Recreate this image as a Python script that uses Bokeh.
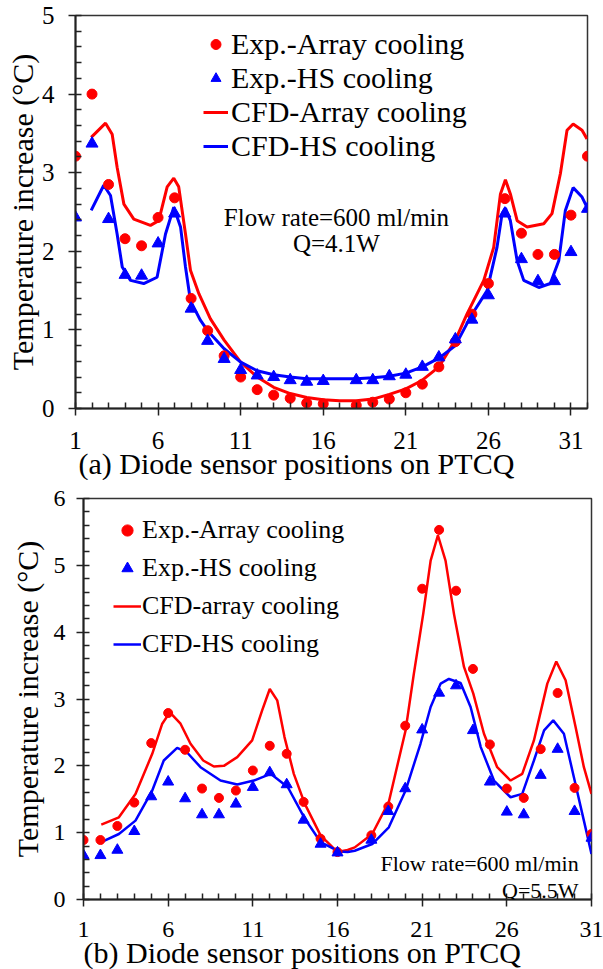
from bokeh.plotting import figure
from bokeh.models import Range1d, FixedTicker, Legend, LegendItem, Label, Title
from bokeh.embed import file_html
from bokeh.resources import INLINE

FONT = "Liberation Serif"
RED = "#FF0000"
BLUE = "#0000FF"

# ---------------- Panel (a): Q = 4.1 W ----------------
a_sensor = [1, 2, 3, 4, 5, 6, 7, 8, 9, 10, 11, 12, 13, 14, 15, 16,
            18, 19, 20, 21, 22, 23, 24, 25, 26, 27, 28, 29, 30, 31, 32]
a_exp_array = [3.21, 4.00, 2.85, 2.16, 2.07, 2.43, 2.68, 1.40, 0.99, 0.67, 0.40, 0.24, 0.17, 0.13, 0.07, 0.06,
               0.04, 0.08, 0.12, 0.20, 0.31, 0.53, 0.85, 1.20, 1.59, 2.67, 2.23, 1.96, 1.96, 2.46, 3.21]
a_exp_hs = [2.43, 3.37, 2.41, 1.70, 1.69, 2.10, 2.48, 1.27, 0.86, 0.63, 0.49, 0.42, 0.40, 0.36, 0.34, 0.35,
            0.36, 0.36, 0.41, 0.43, 0.53, 0.65, 0.88, 1.13, 1.44, 2.48, 1.90, 1.62, 1.62, 1.99, 2.54]

a_cfd_array_x = [1.95, 2.82, 3.22, 3.52, 3.93, 4.53, 5.54, 6.04, 6.55, 6.95, 7.25, 7.66, 7.96, 8.47, 9.17,
                 10, 11, 12, 13, 14, 15, 16, 17, 18, 19, 20, 21, 22, 23, 24, 24.7, 25.72, 26.32, 26.73,
                 27.03, 27.33, 27.74, 28.34, 29.35, 29.85, 30.36, 30.76, 31.13, 31.67, 31.97]
a_cfd_array = [3.45, 3.63, 3.49, 3.07, 2.60, 2.41, 2.33, 2.39, 2.82, 2.93, 2.82, 2.22, 1.76, 1.46, 1.14,
               0.87, 0.59, 0.40, 0.27, 0.19, 0.14, 0.11, 0.10, 0.10, 0.12, 0.18, 0.25, 0.36, 0.53, 0.87, 1.20,
               1.63, 2.05, 2.73, 2.91, 2.73, 2.39, 2.31, 2.35, 2.48, 2.99, 3.54, 3.62, 3.54, 3.43]

a_cfd_hs_x = [1.95, 2.71, 3.12, 3.52, 3.83, 4.33, 5.13, 5.94, 6.45, 6.95, 7.36, 7.66, 7.96, 8.57, 9,
              10, 11, 12, 13, 14, 15, 16, 17, 18, 19, 20, 21, 22, 23, 24, 24.9, 25.92, 26.52, 26.83,
              27.03, 27.33, 27.74, 28.14, 29.05, 29.75, 30.26, 30.66, 31.13, 31.67, 31.97]
a_cfd_hs = [2.52, 2.84, 2.71, 2.22, 1.80, 1.63, 1.59, 1.67, 2.22, 2.56, 2.31, 1.80, 1.37, 1.12, 0.99,
            0.76, 0.59, 0.48, 0.43, 0.40, 0.38, 0.38, 0.38, 0.38, 0.39, 0.41, 0.45, 0.53, 0.64, 0.80, 1.16,
            1.50, 2.05, 2.48, 2.55, 2.39, 1.88, 1.63, 1.54, 1.59, 1.88, 2.52, 2.81, 2.69, 2.56]

a_xticks = [1, 6, 11, 16, 21, 26, 31]
a_yticks = [0, 1, 2, 3, 4, 5]

# ---------------- Panel (b): Q = 5.5 W ----------------
b_sensor = [1, 2, 3, 4, 5, 6, 7, 8, 9, 10, 11, 12, 13, 14, 15, 16,
            18, 19, 20, 21, 22, 23, 24, 25, 26, 27, 28, 29, 30, 31]
b_exp_array = [0.89, 0.89, 1.10, 1.45, 2.34, 2.79, 2.24, 1.66, 1.52, 1.63, 1.93, 2.30, 2.18, 1.46, 0.91, 0.71,
               0.96, 1.39, 2.60, 4.65, 5.53, 4.62, 3.45, 2.32, 1.66, 1.52, 2.25, 3.09, 1.67, 0.98]
b_exp_hs = [0.66, 0.66, 0.74, 1.02, 1.54, 1.76, 1.51, 1.27, 1.27, 1.43, 1.68, 1.90, 1.72, 1.19, 0.83, 0.70,
            0.89, 1.32, 1.66, 2.54, 3.09, 3.20, 2.53, 1.76, 1.31, 1.27, 1.86, 2.25, 1.32, 0.92]

b_cfd_array_x = [2.05, 3.09, 4.07, 5.06, 5.65, 6.1, 6.73, 7.32, 8.07, 8.7, 9.29, 10.08, 10.96, 11.55, 12.0,
                 12.44, 12.87, 13.42, 14.07, 15.0, 16.0, 16.6, 17.02, 18.05, 19.03, 20.02, 20.51, 21.06, 21.5,
                 21.93, 22.38, 22.88, 23.47, 24.02, 24.65, 25.43, 26.22, 26.91, 27.6, 28.39, 28.92, 29.47,
                 30.06, 30.55, 31.0]
b_cfd_array = [1.12, 1.23, 1.58, 2.18, 2.63, 2.80, 2.63, 2.33, 2.08, 1.99, 2.00, 2.13, 2.38, 2.83, 3.15,
               2.98, 2.43, 1.88, 1.43, 0.96, 0.71, 0.74, 0.78, 0.98, 1.46, 2.53, 3.38, 4.27, 5.07,
               5.45, 5.07, 4.27, 3.48, 3.08, 2.48, 1.98, 1.78, 1.88, 2.38, 3.23, 3.56, 3.28,
               2.58, 1.98, 1.58]

b_cfd_hs_x = [2.05, 3.09, 4.07, 5.06, 5.74, 6.53, 7.12, 7.91, 9.09, 10.08, 11.06, 12.05, 13.07, 14.07, 15.0,
              16.08, 16.6, 17.02, 18.05, 19.03, 20.02, 20.9, 21.5, 22.09, 22.58, 23.27, 23.86, 24.46, 25.24,
              26.22, 26.91, 27.6, 28.2, 28.74, 29.37, 29.96, 30.55, 31.0]
b_cfd_hs = [0.86, 0.98, 1.18, 1.63, 2.08, 2.27, 2.20, 1.98, 1.78, 1.72, 1.78, 1.88, 1.68, 1.21, 0.86,
            0.72, 0.71, 0.73, 0.83, 1.08, 1.63, 2.33, 2.88, 3.23, 3.30, 3.24, 2.88, 2.28, 1.78,
            1.53, 1.58, 2.08, 2.53, 2.68, 2.48, 1.83, 1.18, 0.68]

b_xticks = [1, 6, 11, 16, 21, 26, 31]
b_yticks = [0, 1, 2, 3, 4, 5, 6]


def style_axes(p, tick_size, x_standoff, y_standoff, ylabel_standoff):
    for ax in (p.xaxis[0], p.yaxis[0]):
        ax.axis_label_text_font = FONT
        ax.axis_label_text_font_size = "30px"
        ax.axis_label_text_font_style = "normal"
        ax.axis_label_text_color = "black"
        ax.major_label_text_font = FONT
        ax.major_label_text_font_size = tick_size
        ax.major_label_text_color = "black"
        ax.axis_line_color = "#222222"
        ax.axis_line_width = 2
        ax.major_tick_line_color = "#222222"
        ax.major_tick_line_width = 1.5
        ax.minor_tick_line_color = "#222222"
        ax.minor_tick_line_width = 1.5
        ax.major_tick_out = 7
        ax.major_tick_in = 0
        ax.minor_tick_in = 6
        ax.minor_tick_out = 0
    p.xaxis.major_label_standoff = x_standoff
    p.yaxis.major_label_standoff = y_standoff
    p.yaxis.axis_label_standoff = ylabel_standoff
    p.xgrid.visible = False
    p.ygrid.visible = False
    p.outline_line_color = "#333333"
    p.outline_line_width = 1.5
    p.background_fill_color = "white"
    p.border_fill_color = "white"


def add_xlabel(p, text, offset, standoff):
    t = Title(text=text, align="left", offset=offset, text_font=FONT, text_font_size="30px",
              text_font_style="normal", text_color="black")
    try:
        t.standoff = standoff
    except Exception:
        t.standoff = 0
    p.add_layout(t, "below")


def make_legend(items, loc, spacing, gw, gh, standoff, size):
    return Legend(items=items, location=loc, padding=0, margin=0, spacing=spacing,
                  glyph_width=gw, glyph_height=gh, label_height=gh, label_standoff=standoff,
                  label_text_font=FONT, label_text_font_size=size, label_text_color="black",
                  background_fill_alpha=0, border_line_alpha=0)


# ---------------- Figure (a) ----------------
pa = figure(width=603, height=480, output_backend="svg", toolbar_location=None,
            x_range=Range1d(1, 32), y_range=Range1d(0, 5),
            min_border_left=75, min_border_right=16, min_border_top=15, min_border_bottom=72,
            y_axis_label="Temperature increase (°C)")
pa.xaxis.ticker = FixedTicker(ticks=a_xticks, minor_ticks=list(range(1, 33)))
pa.yaxis.ticker = FixedTicker(ticks=a_yticks, minor_ticks=[i / 5 for i in range(0, 26)])
style_axes(pa, "25px", 16, 14, 0)
add_xlabel(pa, "(a)  Diode sensor positions on PTCQ", 3, -13)

la_arr = pa.line(a_cfd_array_x, a_cfd_array, line_color=RED, line_width=3)
la_hs = pa.line(a_cfd_hs_x, a_cfd_hs, line_color=BLUE, line_width=3)
sa_arr = pa.scatter(a_sensor, a_exp_array, marker="circle", size=10, fill_color=RED, line_color=RED)
sa_hs = pa.scatter(a_sensor, a_exp_hs, marker="triangle", size=12, fill_color=BLUE, line_color=BLUE)

leg_a = make_legend([LegendItem(label="Exp.-Array cooling", renderers=[sa_arr]),
                     LegendItem(label="Exp.-HS cooling", renderers=[sa_hs]),
                     LegendItem(label="CFD-Array cooling", renderers=[la_arr]),
                     LegendItem(label="CFD-HS cooling", renderers=[la_hs])],
                    (128, 245), 0, 25, 32, 3, "30px")
pa.add_layout(leg_a)

pa.add_layout(Label(x=16.8, y=2.43, text="Flow rate=600 ml/min", text_align="center",
                    text_baseline="alphabetic", text_font=FONT, text_font_size="25px", text_color="black"))
pa.add_layout(Label(x=16.8, y=2.105, text="Q=4.1W", text_align="center",
                    text_baseline="alphabetic", text_font=FONT, text_font_size="25px", text_color="black"))

# ---------------- Figure (b) ----------------
pb = figure(width=603, height=489, output_backend="svg", toolbar_location=None,
            x_range=Range1d(1, 31), y_range=Range1d(0, 6),
            min_border_left=83, min_border_right=12, min_border_top=18, min_border_bottom=70,
            y_axis_label="Temperature increase (°C)")
pb.xaxis.ticker = FixedTicker(ticks=b_xticks, minor_ticks=list(range(1, 32)))
pb.yaxis.ticker = FixedTicker(ticks=b_yticks, minor_ticks=[i / 5 for i in range(0, 31)])
style_axes(pb, "24px", 15, 11, 7)
add_xlabel(pb, "(b) Diode sensor positions on PTCQ", 0, -11)

lb_arr = pb.line(b_cfd_array_x, b_cfd_array, line_color=RED, line_width=2.5)
lb_hs = pb.line(b_cfd_hs_x, b_cfd_hs, line_color=BLUE, line_width=2.5)
sb_arr = pb.scatter(b_sensor, b_exp_array, marker="circle", size=9, fill_color=RED, line_color=RED)
sb_hs = pb.scatter(b_sensor, b_exp_hs, marker="triangle", size=11, fill_color=BLUE, line_color=BLUE)

leg_b = make_legend([LegendItem(label="Exp.-Array cooling", renderers=[sb_arr]),
                     LegendItem(label="Exp.-HS cooling", renderers=[sb_hs]),
                     LegendItem(label="CFD-array cooling", renderers=[lb_arr]),
                     LegendItem(label="CFD-HS cooling", renderers=[lb_hs])],
                    (30, 240), 8, 28, 30, 1, "26px")
pb.add_layout(leg_b)

pb.add_layout(Label(x=30.24, y=0.54, text="Flow rate=600 ml/min", text_align="right",
                    text_baseline="alphabetic", text_font=FONT, text_font_size="22px", text_color="black"))
pb.add_layout(Label(x=30.24, y=0.135, text="Q=5.5W", text_align="right",
                    text_baseline="alphabetic", text_font=FONT, text_font_size="22px", text_color="black"))

open("out.html", "w").write(file_html([pa, pb], INLINE))
